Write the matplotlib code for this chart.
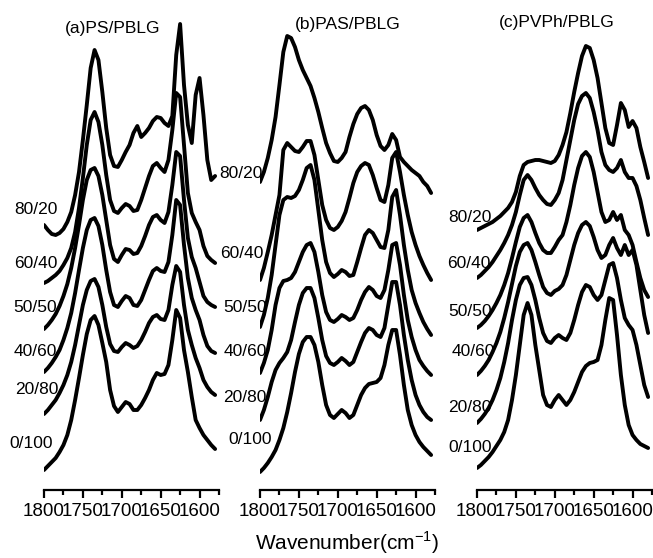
import matplotlib
matplotlib.use("Agg")
import matplotlib.pyplot as plt
from matplotlib.ticker import MultipleLocator

# wavenumber grid (cm-1) the spectra were read at
wavenumber = list(range(1800, 1575, -5))

ratios = ["80/20", "60/40", "50/50", "40/60", "20/80", "0/100"]

# (a) PS/PBLG, stacked absorbance (a.u., offset already included)
ps_8020 = [265, 260, 256, 255, 257, 261, 268, 278, 295, 318, 350, 385, 422, 440, 430, 398, 362, 335, 324, 323,
           330, 338, 345, 357, 364, 353, 357, 362, 369, 373, 372, 367, 364, 374, 435, 466, 405, 365, 347, 395,
           412, 375, 330, 310, 314]
ps_6040 = [207, 209, 212, 215, 219, 225, 232, 242, 258, 282, 312, 345, 370, 378, 368, 345, 315, 290, 279, 277,
           282, 286, 284, 279, 280, 290, 302, 314, 324, 327, 322, 318, 330, 360, 397, 393, 345, 297, 277, 268,
           260, 244, 234, 230, 227]
ps_5050 = [161, 165, 170, 176, 184, 194, 206, 222, 242, 265, 290, 310, 320, 322, 314, 295, 270, 245, 231, 228,
           235, 241, 240, 236, 237, 244, 254, 265, 273, 275, 270, 267, 278, 305, 338, 334, 290, 252, 233, 222,
           208, 194, 188, 185, 183]
ps_4060 = [118, 122, 127, 133, 140, 150, 162, 177, 197, 220, 242, 260, 270, 272, 264, 245, 220, 198, 185, 183,
           189, 194, 192, 185, 184, 190, 200, 210, 219, 222, 219, 218, 228, 255, 290, 285, 245, 212, 192, 180,
           170, 155, 144, 139, 137]
ps_2080 = [76, 80, 85, 90, 97, 105, 115, 128, 145, 165, 185, 200, 209, 211, 203, 185, 163, 146, 139, 138,
           143, 147, 145, 142, 144, 150, 158, 167, 173, 175, 171, 170, 180, 205, 224, 218, 185, 160, 145, 132,
           122, 110, 103, 98, 95]
ps_0100 = [20, 24, 28, 32, 38, 45, 55, 70, 90, 112, 135, 156, 170, 174, 165, 147, 128, 100, 84, 78,
           83, 88, 86, 80, 80, 85, 92, 100, 110, 117, 115, 116, 125, 150, 180, 172, 140, 118, 93, 70,
           62, 55, 50, 45, 41]

# (b) PAS/PBLG
pas_8020 = [308, 318, 332, 350, 373, 405, 438, 454, 452, 443, 430, 420, 412, 404, 392, 378, 362, 347, 337, 329,
            328, 332, 338, 353, 366, 376, 382, 384, 380, 370, 355, 344, 340, 345, 356, 350, 333, 328, 324, 320,
            317, 314, 308, 304, 297]
pas_6040 = [210, 222, 238, 255, 275, 295, 340, 347, 343, 339, 338, 343, 349, 349, 335, 310, 285, 270, 262, 260,
            263, 269, 278, 292, 307, 318, 324, 327, 325, 315, 302, 290, 288, 305, 332, 338, 318, 295, 275, 258,
            245, 234, 225, 217, 210]
pas_5050 = [163, 175, 192, 215, 245, 275, 290, 293, 292, 294, 300, 310, 322, 325, 310, 280, 250, 228, 217, 213,
            216, 220, 218, 214, 215, 228, 242, 255, 260, 257, 250, 243, 242, 260, 293, 300, 275, 245, 220, 200,
            187, 177, 168, 161, 155]
pas_4060 = [117, 127, 140, 160, 185, 202, 209, 210, 212, 218, 228, 238, 245, 247, 238, 218, 195, 178, 170, 168,
            171, 175, 173, 170, 172, 180, 190, 198, 203, 200, 194, 192, 200, 220, 245, 247, 225, 195, 170, 153,
            140, 130, 124, 119, 115]
pas_2080 = [70, 80, 93, 108, 120, 127, 132, 138, 150, 168, 185, 197, 202, 202, 192, 172, 150, 134, 127, 125,
            128, 132, 129, 125, 128, 138, 148, 157, 162, 160, 155, 153, 162, 185, 208, 208, 185, 155, 130, 110,
            95, 85, 78, 73, 70]
pas_0100 = [18, 22, 27, 33, 40, 50, 62, 78, 97, 118, 136, 148, 153, 153, 145, 128, 105, 85, 75, 72,
            76, 80, 77, 72, 75, 85, 95, 102, 106, 107, 108, 112, 125, 145, 160, 160, 135, 105, 80, 65,
            55, 48, 43, 39, 35]

# (c) PVPh/PBLG
pvph_8020 = [260, 262, 264, 266, 268, 271, 274, 278, 282, 288, 298, 314, 325, 328, 329, 330, 330, 329, 328, 327,
             329, 335, 345, 358, 377, 398, 417, 434, 444, 442, 430, 412, 387, 362, 347, 345, 365, 387, 380, 363,
             369, 362, 343, 328, 312]
pvph_6040 = [212, 215, 219, 223, 228, 234, 240, 247, 255, 265, 278, 295, 310, 315, 310, 302, 295, 290, 286, 285,
             290, 297, 310, 330, 350, 370, 386, 394, 397, 392, 378, 360, 338, 325, 320, 318, 322, 330, 318, 312,
             312, 304, 290, 272, 255]
pvph_5050 = [162, 165, 169, 174, 180, 187, 195, 205, 217, 232, 248, 263, 272, 275, 268, 257, 247, 240, 237, 237,
             243, 250, 255, 268, 285, 305, 322, 334, 338, 333, 318, 298, 278, 268, 270, 278, 270, 275, 260, 255,
             245, 228, 212, 200, 193]
pvph_4060 = [115, 119, 124, 130, 138, 147, 158, 172, 188, 206, 224, 238, 245, 247, 240, 228, 215, 203, 197, 195,
             199, 201, 205, 215, 230, 245, 257, 265, 268, 264, 253, 240, 232, 235, 245, 252, 242, 235, 245, 235,
             240, 225, 200, 175, 157]
pvph_2080 = [67, 71, 76, 82, 90, 100, 112, 128, 147, 170, 190, 205, 212, 213, 205, 190, 172, 157, 149, 147,
             152, 155, 152, 150, 157, 170, 185, 198, 205, 203, 195, 190, 195, 210, 225, 227, 212, 190, 172, 165,
             160, 145, 125, 105, 93]
pvph_0100 = [22, 25, 29, 33, 38, 44, 50, 58, 70, 90, 115, 145, 175, 187, 175, 145, 120, 95, 85, 83,
             90, 95, 90, 85, 90, 98, 108, 118, 124, 127, 128, 130, 145, 170, 192, 190, 155, 115, 85, 65,
             55, 50, 46, 44, 42]

titles = ["(a)PS/PBLG", "(b)PAS/PBLG", "(c)PVPh/PBLG"]
spectra = [
    [ps_8020, ps_6040, ps_5050, ps_4060, ps_2080, ps_0100],
    [pas_8020, pas_6040, pas_5050, pas_4060, pas_2080, pas_0100],
    [pvph_8020, pvph_6040, pvph_5050, pvph_4060, pvph_2080, pvph_0100],
]

# where the ratio labels and titles sit (data coords of each panel)
label_x = [[1783, 1783, 1783, 1783, 1782, 1788],
           [1797, 1796, 1791, 1791, 1791, 1785],
           [1781, 1783, 1781, 1777, 1781, 1781]]
label_y = [[281, 227, 183, 138, 100, 47],
           [317, 237, 182, 138, 93, 50],
           [272, 227, 178, 138, 83, 43]]
title_pos = [(1712, 462), (1687, 465), (1698, 468)]
panel_left = [44, 260, 477]   # pixel column of 1800 cm-1 in each panel

if __name__ == "__main__":
    plt.rcParams['font.family'] = ['Liberation Sans', 'DejaVu Sans']

    W, H = 653, 558
    fig = plt.figure(figsize=(W / 100, H / 100), dpi=100)

    for k in range(3):
        ax = fig.add_axes([panel_left[k] / W, 68 / H, 175 / W, 490 / H])
        for ys in spectra[k]:
            ax.plot(wavenumber, ys, color='black', lw=2.8, solid_capstyle='round', solid_joinstyle='round')
        for lab, lx, ly in zip(ratios, label_x[k], label_y[k]):
            ax.text(lx, ly, lab, ha='right', va='center', fontsize=12.5)
        ax.text(title_pos[k][0], title_pos[k][1], titles[k], ha='center', va='center', fontsize=12.5)

        ax.set_xlim(1800, 1575)
        ax.set_ylim(0, 490)
        for s in ['top', 'right', 'left']:
            ax.spines[s].set_visible(False)
        ax.spines['bottom'].set_linewidth(1.6)
        ax.set_yticks([])
        ax.xaxis.set_major_locator(MultipleLocator(50))
        ax.xaxis.set_minor_locator(MultipleLocator(25))
        ax.tick_params(axis='x', which='major', direction='out', length=6, width=1.6, pad=3, labelsize=13.5)
        ax.tick_params(axis='x', which='minor', direction='out', length=3.5, width=1.6)
        ax.patch.set_alpha(0)

    fig.text(347 / W, 1 - 543 / H, r"Wavenumber(cm$^{\mathregular{-1}}$)", ha='center', va='center', fontsize=15)

    fig.savefig("out.png", dpi=100)
